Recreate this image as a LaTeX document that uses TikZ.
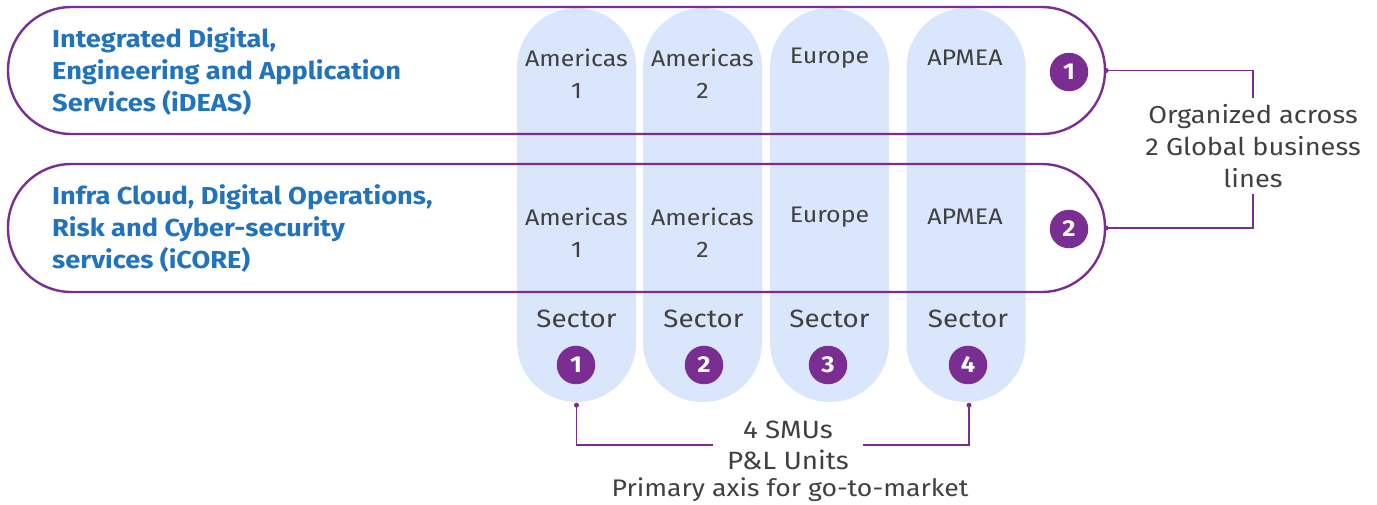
\documentclass[tikz,border=0pt]{standalone}
\usepackage{fontspec}
\setmainfont{Fira Sans}[FakeStretch=1.11]
\definecolor{pur}{RGB}{122,46,146}
\definecolor{blu}{RGB}{33,115,190}
\definecolor{colfill}{RGB}{218,230,251}
\definecolor{txt}{RGB}{64,64,64}
\begin{document}
\begin{tikzpicture}[x=1pt,y=-1pt,
  pill/.style={draw=pur, line width=2.4pt, rounded corners=63.4pt, minimum width=1097pt, minimum height=127pt, inner sep=0pt},
  colbox/.style={fill=colfill, rounded corners=59.4pt, minimum width=119pt, minimum height=394pt, inner sep=0pt},
  head/.style={anchor=west, align=left, text=blu, font=\fontsize{24.5}{32}\selectfont\bfseries, inner sep=0pt},
  reg/.style={align=center, text=txt, font=\fontsize{22.5}{32}\selectfont, inner sep=0pt},
  sect/.style={align=center, text=txt, font=\fontsize{25}{32}\selectfont, inner sep=0pt},
  badge/.style={circle, fill=pur, text=white, minimum size=38.5pt, inner sep=0pt, font=\fontsize{23}{24}\selectfont\bfseries},
  link/.style={draw=pur, line width=1.4pt},
  dotc/.style={circle, fill=pur, minimum size=5pt, inner sep=0pt}
]
\useasboundingbox (0,0) rectangle (1377,504);
% columns
\node[colbox] (col1) at (576.5,205) {};
\node[colbox] (col2) at (702.5,205) {};
\node[colbox] (col3) at (829.5,205) {};
\node[colbox] (col4) at (966,205) {};
% pills
\node[pill] (pill1) at (556.5,70.5) {};
\node[pill, minimum height=128pt] (pill2) at (556.5,228) {};
% headings
\node[head] (h1) at (52,72) {Integrated Digital,\\Engineering and Application\\Services (iDEAS)};
\node[head] (h2) at (52,229) {Infra Cloud, Digital Operations,\\Risk and Cyber-security\\services (iCORE)};
% column labels row 1
\node[reg] (a11) at (576.5,74) {Americas\\1};
\node[reg] (a12) at (702.5,74) {Americas\\2};
\node[reg] (a13) at (829.5,58) {Europe};
\node[reg] (a14) at (965,58) {APMEA};
% row 2
\node[reg] (a21) at (576.5,233) {Americas\\1};
\node[reg] (a22) at (702.5,233) {Americas\\2};
\node[reg] (a23) at (829.5,217) {Europe};
\node[reg] (a24) at (965,217) {APMEA};
% sectors
\node[sect] (sec1) at (576.5,319) {Sector};
\node[sect] (sec2) at (703.5,319) {Sector};
\node[sect] (sec3) at (829.5,319) {Sector};
\node[sect] (sec4) at (968,319) {Sector};
\node[badge] (s1) at (576,365) {1};
\node[badge] (s2) at (704,365) {2};
\node[badge] (s3) at (828,365) {3};
\node[badge] (s4) at (968,365) {4};
% right badges
\node[badge] (b1) at (1069,72) {1};
\node[badge] (b2) at (1069,229) {2};
% right text
\node[sect, minimum height=95pt, font=\fontsize{24.5}{32}\selectfont] (org) at (1253,146) {Organized across\\2 Global business\\lines};
\draw[link] (pill1.east) -| (org.north);
\draw[link] (pill2.east) -| (org.south);
\node[dotc] (d1) at (pill1.east) {};
\node[dotc] (d2) at (pill2.east) {};
% bottom text
\node[sect, minimum width=150pt, font=\fontsize{25}{31}\selectfont] (smu) at (788,445) {4 SMUs\\P\&L Units};
\node[reg, font=\fontsize{24}{30}\selectfont] (prim) at (790,490) {Primary axis for go-to-market};
\coordinate (c1b) at ([yshift=-3pt]col1.south);
\coordinate (c4b) at ([xshift=3pt,yshift=-3pt]col4.south);
\draw[link] (c1b) |- (smu.west);
\draw[link] (c4b) |- (smu.east);
\node[dotc] (d3) at (c1b) {};
\node[dotc] (d4) at (c4b) {};
\end{tikzpicture}
\end{document}
